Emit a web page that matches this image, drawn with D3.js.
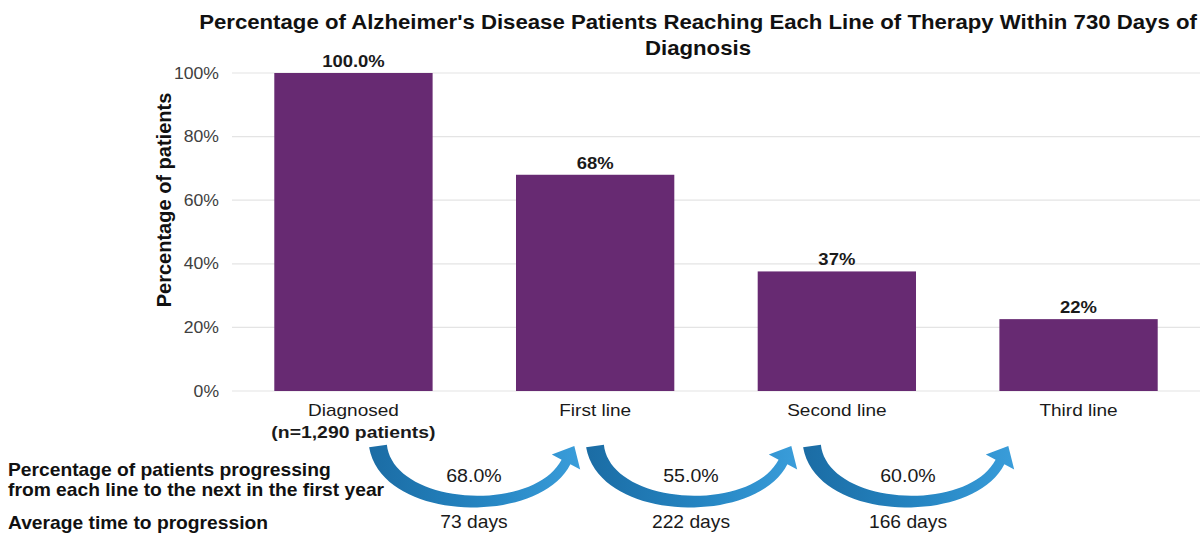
<!DOCTYPE html>
<html>
<head>
<meta charset="utf-8">
<script src="https://cdn.jsdelivr.net/npm/d3@7"></script>
<style>
  body { margin: 0; background: #fff; }
  text { font-family: "Liberation Sans", Arial, sans-serif; }
</style>
</head>
<body>
<div id="chart"></div>
<script>
// data
var categories = ["Diagnosed", "First line", "Second line", "Third line"];
var values = [100, 68, 37.6, 22.6];
var valueLabels = ["100.0%", "68%", "37%", "22%"];
var yTicks = [0, 20, 40, 60, 80, 100];
var transitions = ["68.0%", "55.0%", "60.0%"];
var daysToNext = ["73 days", "222 days", "166 days"];

var width = 1202, height = 535;
var margin = {top: 73, right: 2, bottom: 144, left: 232};
var plotW = width - margin.left - margin.right;
var plotH = height - margin.top - margin.bottom;

// the source text is rendered a little wide, so stretch it horizontally
function stretch(sel, sx, cx) {
  sel.each(function() {
    var el = d3.select(this);
    var x0 = cx != null ? cx : (+el.attr("x") || 0);
    el.attr("transform", "translate(" + (x0 * (1 - sx)) + ",0) scale(" + sx + ",1)");
  });
}

var svg = d3.select("#chart")
    .append("svg")
    .attr("width", width)
    .attr("height", height);

var defs = svg.append("defs");
var grad = defs.append("linearGradient")
    .attr("id", "arrowGrad")
    .attr("x1", "0%").attr("x2", "100%")
    .attr("y1", "0%").attr("y2", "0%");
grad.append("stop").attr("offset", "0%").attr("stop-color", "#1b6ca4");
grad.append("stop").attr("offset", "55%").attr("stop-color", "#2585c2");
grad.append("stop").attr("offset", "100%").attr("stop-color", "#3a9dda");

var g = svg.append("g")
    .attr("transform", "translate(" + margin.left + "," + margin.top + ")");

var x = d3.scaleBand()
    .domain(categories)
    .range([0, plotW])
    .paddingInner(0.345)
    .paddingOuter(0.175);

var y = d3.scaleLinear()
    .domain([0, 100])
    .range([plotH, 0]);

// gridlines
g.selectAll(".grid")
  .data(yTicks)
  .enter()
  .append("line")
    .attr("class", "grid")
    .attr("x1", 0)
    .attr("x2", plotW)
    .attr("y1", (d) => y(d))
    .attr("y2", (d) => y(d))
    .attr("stroke", "#e4e4e4")
    .attr("stroke-width", 1.2);

// y axis labels
var yAxis = g.append("g")
    .call(d3.axisLeft(y).tickValues(yTicks).tickFormat((d) => d + "%").tickSize(0).tickPadding(13));
yAxis.select(".domain").remove();
yAxis.selectAll("text")
    .attr("font-size", "16px")
    .attr("font-family", "Liberation Sans, Arial, sans-serif")
    .attr("fill", "#404040")
    .call(stretch, 1.1);

// bars
g.selectAll(".bar")
  .data(values)
  .enter()
  .append("rect")
    .attr("class", "bar")
    .attr("x", (d, i) => x(categories[i]))
    .attr("y", (d) => y(d))
    .attr("width", x.bandwidth())
    .attr("height", (d) => plotH - y(d))
    .attr("fill", "#672a72");

g.selectAll(".vlabel")
  .data(values)
  .enter()
  .append("text")
    .attr("class", "vlabel")
    .attr("x", (d, i) => x(categories[i]) + x.bandwidth() / 2)
    .attr("y", (d) => y(d) - 6)
    .attr("text-anchor", "middle")
    .attr("font-size", "16.5px")
    .attr("font-weight", "bold")
    .attr("fill", "#1a1a1a")
    .text((d, i) => valueLabels[i])
    .call(stretch, 1.12);

// category labels
g.selectAll(".cat")
  .data(categories)
  .enter()
  .append("text")
    .attr("class", "cat")
    .attr("x", (d) => x(d) + x.bandwidth() / 2)
    .attr("y", plotH + 25)
    .attr("text-anchor", "middle")
    .attr("font-size", "17px")
    .attr("fill", "#1a1a1a")
    .text((d) => d)
    .call(stretch, 1.12);

g.append("text")
    .attr("x", x(categories[0]) + x.bandwidth() / 2)
    .attr("y", plotH + 47)
    .attr("text-anchor", "middle")
    .attr("font-size", "17px")
    .attr("font-weight", "bold")
    .attr("fill", "#1a1a1a")
    .text("(n=1,290 patients)")
    .call(stretch, 1.14);

// y axis title
svg.append("text")
    .attr("transform", "rotate(-90)")
    .attr("x", -200)
    .attr("y", 171)
    .attr("text-anchor", "middle")
    .attr("font-size", "20px")
    .attr("font-weight", "bold")
    .attr("fill", "#111")
    .text("Percentage of patients");

// title
var title = svg.append("text")
    .attr("text-anchor", "middle")
    .attr("font-size", "20px")
    .attr("font-weight", "bold")
    .attr("fill", "#111");
title.append("tspan").attr("x", 698).attr("y", 29)
    .text("Percentage of Alzheimer's Disease Patients Reaching Each Line of Therapy Within 730 Days of");
title.append("tspan").attr("x", 698).attr("y", 55)
    .text("Diagnosis");
title.call(stretch, 1.11, 698);

// progression arrows
var xa = d3.scalePoint()
    .domain(d3.range(transitions.length))
    .range([474, 908]);

function cubic(p0, p1, p2, p3, t) {
  var u = 1 - t;
  return [
    u*u*u*p0[0] + 3*u*u*t*p1[0] + 3*u*t*t*p2[0] + t*t*t*p3[0],
    u*u*u*p0[1] + 3*u*u*t*p1[1] + 3*u*t*t*p2[1] + t*t*t*p3[1]
  ];
}
function cubicD(p0, p1, p2, p3, t) {
  var u = 1 - t;
  return [
    3*u*u*(p1[0]-p0[0]) + 6*u*t*(p2[0]-p1[0]) + 3*t*t*(p3[0]-p2[0]),
    3*u*u*(p1[1]-p0[1]) + 6*u*t*(p2[1]-p1[1]) + 3*t*t*(p3[1]-p2[1])
  ];
}

function arrowPath(m) {
  var p0 = [m - 96, 446], p1 = [m - 86, 514], p2 = [m + 62, 520], p3 = [m + 92, 462];
  var n = 40, A = [], B = [];
  for (var i = 0; i <= n; i++) {
    var t = i / n;
    var p = cubic(p0, p1, p2, p3, t);
    var d = cubicD(p0, p1, p2, p3, t);
    var len = Math.hypot(d[0], d[1]);
    var nx = -d[1] / len, ny = d[0] / len;
    var w = 10 + 8 * Math.pow(1 - t, 2);
    A.push([p[0] + nx * w / 2, p[1] + ny * w / 2]);
    B.push([p[0] - nx * w / 2, p[1] - ny * w / 2]);
  }
  var de = cubicD(p0, p1, p2, p3, 1);
  var le = Math.hypot(de[0], de[1]);
  var tx = de[0] / le, ty = de[1] / le;
  var hx = -ty, hy = tx, hw = 16, hl = 18;
  var tip = [p3[0] + tx * hl, p3[1] + ty * hl];
  var pts = A.concat([[p3[0] + hx * hw, p3[1] + hy * hw], tip, [p3[0] - hx * hw, p3[1] - hy * hw]])
    .concat(B.reverse());
  return "M" + pts.map((p) => p[0].toFixed(1) + "," + p[1].toFixed(1)).join("L") + "Z";
}

svg.selectAll(".arrow")
  .data(transitions)
  .enter()
  .append("path")
    .attr("class", "arrow")
    .attr("d", (d, i) => arrowPath(xa(i)))
    .attr("fill", "url(#arrowGrad)");

svg.selectAll(".tlabel")
  .data(transitions)
  .enter()
  .append("text")
    .attr("class", "tlabel")
    .attr("x", (d, i) => xa(i))
    .attr("y", 482)
    .attr("text-anchor", "middle")
    .attr("font-size", "17.5px")
    .attr("fill", "#1a1a1a")
    .text((d) => d)
    .call(stretch, 1.12);

svg.selectAll(".dlabel")
  .data(daysToNext)
  .enter()
  .append("text")
    .attr("class", "dlabel")
    .attr("x", (d, i) => xa(i))
    .attr("y", 528)
    .attr("text-anchor", "middle")
    .attr("font-size", "17.5px")
    .attr("fill", "#1a1a1a")
    .text((d) => d)
    .call(stretch, 1.1);

// row labels
var rowLabels = svg.append("g")
    .attr("font-size", "17.5px")
    .attr("font-weight", "bold")
    .attr("fill", "#111");
rowLabels.append("text").attr("x", 8).attr("y", 476).text("Percentage of patients progressing");
rowLabels.append("text").attr("x", 8).attr("y", 496).text("from each line to the next in the first year");
rowLabels.append("text").attr("x", 8).attr("y", 529).text("Average time to progression");
rowLabels.selectAll("text").call(stretch, 1.1);
</script>
</body>
</html>
